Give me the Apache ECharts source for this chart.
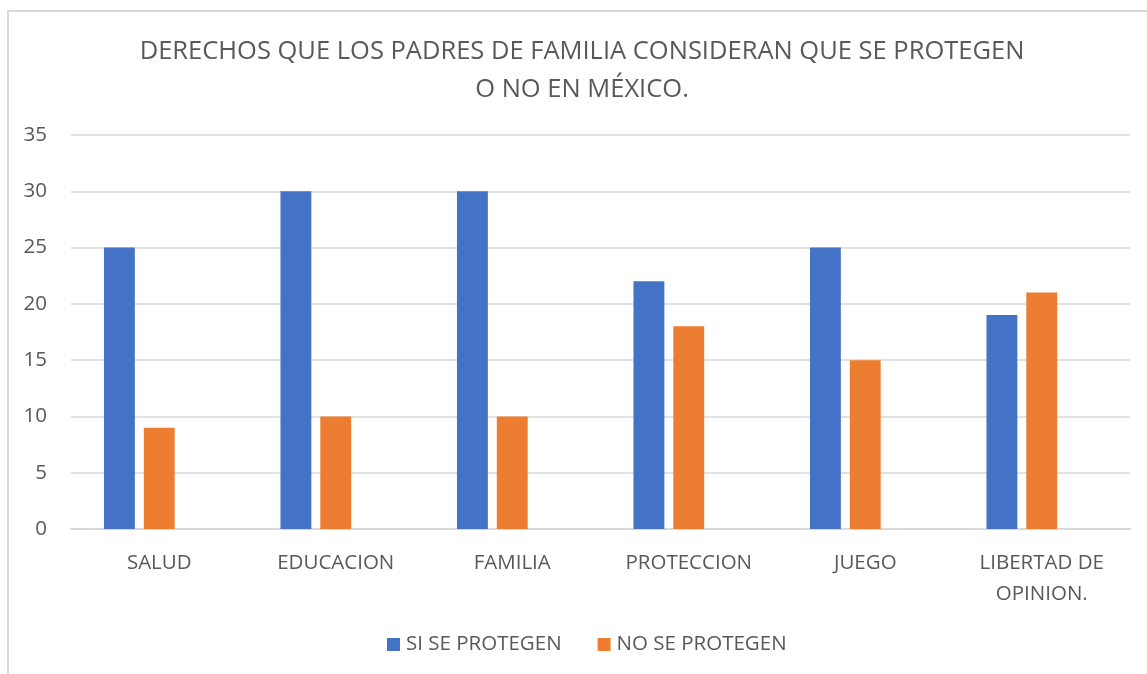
<!DOCTYPE html>
<html><head><meta charset="utf-8">
<script src="https://cdn.jsdelivr.net/npm/echarts@6/dist/echarts.min.js"></script>
<style>
html,body{margin:0;padding:0;background:#fff;}
#frame{position:absolute;left:7px;top:10px;width:1150px;height:680px;border:2px solid #d9d9d9;box-sizing:border-box;}
#c{position:absolute;left:0;top:0;width:1147px;height:674px;}
</style></head>
<body><div id="frame"></div><div id="c"></div>
<script>
const categories = ['SALUD','EDUCACION','FAMILIA','PROTECCION','JUEGO','LIBERTAD DE\nOPINION.'];
const siSeProtegen = [25,30,30,22,25,19];
const noSeProtegen = [9,10,10,18,15,21];
const emptySeries = []; // third (empty) series present in the original chart layout
const seriesNames = ['SI SE PROTEGEN','NO SE PROTEGEN'];
const titleText = 'DERECHOS QUE LOS PADRES DE FAMILIA CONSIDERAN QUE SE PROTEGEN\nO NO EN MÉXICO.';

const font = '"Open Sans", "Noto Sans", sans-serif';
const chart = echarts.init(document.getElementById('c'), null, {renderer:'canvas'});
chart.setOption({
  animation:false,
  textStyle:{fontFamily:font},
  title:{text:titleText,left:577,top:28,textAlign:'center',
    textStyle:{fontFamily:font,fontSize:25.5,fontWeight:'normal',color:'#595959',lineHeight:38,align:'center'}},
  legend:{top:629,left:382,itemWidth:13,itemHeight:13,itemGap:36,icon:'rect',
    textStyle:{fontFamily:font,fontSize:20.5,color:'#595959',padding:[0,0,0,1]},data:seriesNames},
  grid:{left:71,right:17,top:135,bottom:145,containLabel:false},
  xAxis:{type:'category',data:categories,
    axisLine:{lineStyle:{color:'#d9d9d9',width:2}},axisTick:{show:false},
    axisLabel:{fontFamily:font,fontSize:20.5,color:'#595959',margin:19,lineHeight:31,interval:0}},
  yAxis:{type:'value',min:0,max:35,interval:5,
    axisLine:{show:false},axisTick:{show:false},
    splitLine:{lineStyle:{color:'#d9d9d9',width:1.5}},
    axisLabel:{fontFamily:font,fontSize:20.5,color:'#595959',margin:24}},
  series:[
    {name:seriesNames[0],type:'bar',data:siSeProtegen,barWidth:'17.5%',barGap:'29%',itemStyle:{color:'#4472C4'}},
    {name:seriesNames[1],type:'bar',data:noSeProtegen,barWidth:'17.5%',barGap:'29%',itemStyle:{color:'#ED7D31'}},
    {name:'_empty',type:'bar',data:emptySeries,barWidth:'17.5%',barGap:'29%',itemStyle:{color:'#A5A5A5'}}
  ]
});
</script></body></html>
